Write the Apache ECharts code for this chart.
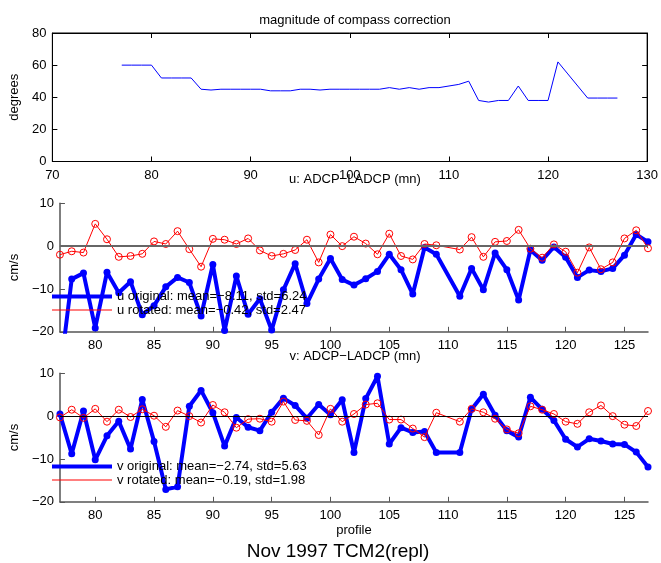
<!DOCTYPE html>
<html>
<head>
<meta charset="utf-8">
<script src="https://cdn.jsdelivr.net/npm/echarts@6/dist/echarts.min.js"></script>
<style>
html, body { margin: 0; padding: 0; background: #fff; }
#chart { width: 661px; height: 563px; }
</style>
</head>
<body>
<div id="chart"></div>
<script>
// profiles (110 is missing in the record)
var profiles = [77, 78, 79, 80, 81, 82, 83, 84, 85, 86, 87, 88, 89, 90, 91, 92, 93,
  94, 95, 96, 97, 98, 99, 100, 101, 102, 103, 104, 105, 106, 107, 108, 109,
  111, 112, 113, 114, 115, 116, 117, 118, 119, 120, 121, 122, 123, 124, 125, 126, 127]

var compass = [60, 60, 60, 60, 52, 52, 52, 52, 45, 44.5, 45, 45, 45, 45, 45, 44, 44,
  44, 45, 45, 44.5, 45, 45, 45, 45, 45, 45, 46, 45, 46, 45, 46, 46,
  48, 50, 38, 37, 38, 38, 47, 38, 38, 38, 62, 54.5, 47, 39.5, 39.5, 39.5, 39.5]

var uOrig = [-30, -7.7, -6.3, -19.1, -6.1, -10.9, -8.3, -16.0, -13.9, -9.5, -7.3, -8.5, -16.3, -4.3, -19.7, -7.0, -15.9,
  -12.3, -19.6, -10.2, -4.1, -13.4, -7.7, -2.9, -7.8, -9.1, -7.6, -5.9, -1.9, -5.5, -11.2, -0.3, -1.9,
  -11.7, -5.2, -10.2, -1.6, -5.5, -12.6, -0.9, -3.3, -0.2, -2.6, -7.3, -5.6, -5.9, -5.2, -2.1, 2.7, 1.0]
var uRot = [-2.0, -1.2, -1.5, 5.2, 1.6, -2.5, -2.3, -1.8, 1.1, 0.5, 3.5, -0.7, -4.8, 1.7, 1.5, 0.5, 1.8,
  -1.0, -2.3, -1.8, -0.9, 1.5, -3.8, 2.7, 0, 2.2, 0.6, -1.9, 2.9, -2.3, -3.1, 0.5, 0.2,
  -0.8, 2.1, -2.5, 1.0, 1.2, 3.8, -0.6, -2.7, 0.4, -1.3, -6.2, -0.3, -5.4, -3.8, 1.8, 3.7, -0.5]

var vOrig = [0.5, -8.8, 1.2, -10.2, -4.6, -1.2, -7.7, 3.9, -5.9, -17.1, -16.5, 2.3, 6.0, 0.8, -7.0, -0.3, -2.6,
  -3.4, 0.9, 4.2, 2.5, -0.5, 2.7, 0.3, 3.8, -8.5, 4.1, 9.3, -6.5, -2.7, -3.8, -3.6, -8.5,
  -8.5, 1.6, 5.1, 0.2, -3.4, -4.9, 4.4, 1.6, -1.0, -5.4, -7.2, -5.3, -5.8, -6.5, -6.6, -8.4, -11.9]
var vRot = [-0.3, 1.5, -0.4, 1.7, -1.3, 1.5, -0.2, 1.6, 0.1, -2.5, 1.3, 0, -1.5, 2.6, 0.9, -2.7, -0.7,
  -0.6, -1.3, 3.4, -0.9, -1.1, -4.4, 1.7, -1.3, 0.5, 2.7, 3.0, -0.8, -0.8, -2.9, -4.9, 0.8,
  -1.3, 1.7, 0.9, -0.6, -3.1, -4.0, 2.3, 1.5, 0.5, -1.3, -1.8, 0.9, 2.5, 0, -2.0, -2.3, 1.2]

var profileTicks = [80, 85, 90, 95, 100, 105, 110, 115, 120, 125]

var uNames = ['u original: mean=\u22128.11, std=6.24', 'u rotated: mean=\u22120.42, std=2.47']
var vNames = ['v original: mean=\u22122.74, std=5.63', 'v rotated: mean=\u22120.19, std=1.98']

function pairs (ys) {
  return profiles.map(function (p, i) { return [p, ys[i]] })
}
function minus (v) {
  return String(v).replace('-', '\u2212')
}

var font = 'Liberation Sans, Arial, sans-serif'
var axisTxt = { color: '#000', fontSize: 13, fontFamily: font }
var L = 52
var R = 13
var H = 128.5

function boxAxis (extra) {
  return Object.assign({
    type: 'value',
    axisLine: { show: true, onZero: false, lineStyle: { color: '#000', width: 1 } },
    axisTick: { show: true, inside: true, length: 5, lineStyle: { color: '#000' } },
    axisLabel: Object.assign({ formatter: minus }, axisTxt),
    splitLine: { show: false }
  }, extra)
}

function lowerX (gi) {
  return {
    type: 'value', gridIndex: gi, min: 77, max: 127, position: 'bottom',
    axisLine: { show: true, onZero: false, lineStyle: { color: '#555', width: 1.5 } },
    axisTick: { show: true, inside: true, length: 5, customValues: profileTicks, lineStyle: { color: '#555' } },
    axisLabel: Object.assign({ customValues: profileTicks, margin: 7 }, axisTxt),
    splitLine: { show: false }
  }
}
function lowerY (gi) {
  return {
    type: 'value', gridIndex: gi, min: -20, max: 10, interval: 10,
    name: 'cm/s', nameLocation: 'middle', nameGap: 24, nameRotate: 90,
    nameTextStyle: axisTxt,
    axisLine: { show: true, onZero: false, lineStyle: { color: '#555', width: 1.5 } },
    axisTick: { show: true, inside: true, length: 5, lineStyle: { color: '#555' } },
    axisLabel: Object.assign({ formatter: minus, margin: 6 }, axisTxt),
    splitLine: { show: false }
  }
}

function origSeries (name, gi, ys) {
  return {
    name: name, type: 'line', xAxisIndex: gi + 1, yAxisIndex: gi + 1,
    data: pairs(ys), symbol: 'circle', symbolSize: 7, showSymbol: true,
    lineStyle: { color: '#0000ff', width: 4 }, itemStyle: { color: '#0000ff' },
    emphasis: { disabled: true }, z: 3
  }
}
function rotSeries (name, gi, ys, zeroColor, zeroWidth) {
  return {
    name: name, type: 'line', xAxisIndex: gi + 1, yAxisIndex: gi + 1,
    data: pairs(ys), symbol: 'circle', symbolSize: 7,
    lineStyle: { color: '#ff0000', width: 1 },
    itemStyle: { color: 'rgba(255,255,255,0)', borderColor: '#ff0000', borderWidth: 1 },
    emphasis: { disabled: true }, z: 4,
    markLine: {
      silent: true, symbol: 'none', label: { show: false },
      lineStyle: { color: zeroColor, width: zeroWidth, type: 'solid' },
      data: [{ yAxis: 0 }]
    }
  }
}

function legendFor (name, top, h, color) {
  return {
    data: [{ name: name, icon: 'rect', itemStyle: { color: color, borderWidth: 0 } }],
    left: L, top: top, padding: 0, itemWidth: 60, itemHeight: h,
    selectedMode: false, textStyle: axisTxt
  }
}

var myChart = echarts.init(document.getElementById('chart'))
var option = {
  backgroundColor: '#fff',
  animation: false,
  title: [
    { text: 'magnitude of compass correction', left: 350, top: 9, textAlign: 'center', textStyle: { fontSize: 13, fontWeight: 'normal', color: '#000', fontFamily: font } },
    { text: 'u: ADCP\u2212LADCP (mn)', left: 350, top: 168, textAlign: 'center', textStyle: { fontSize: 13, fontWeight: 'normal', color: '#000', fontFamily: font } },
    { text: 'v: ADCP\u2212LADCP (mn)', left: 350, top: 345, textAlign: 'center', textStyle: { fontSize: 13, fontWeight: 'normal', color: '#000', fontFamily: font } },
    { text: 'Nov 1997 TCM2(repl)', left: 333, top: 537, textAlign: 'center', textStyle: { fontSize: 19, fontWeight: 'normal', color: '#000', fontFamily: font } }
  ],
  legend: [
    legendFor(uNames[0], 290, 4, '#0000ff'),
    legendFor(uNames[1], 303.5, 1, '#ff0000'),
    legendFor(vNames[0], 460, 4, '#0000ff'),
    legendFor(vNames[1], 473.5, 1, '#ff0000')
  ],
  grid: [
    { left: L, right: R, top: 33, height: H, show: true, borderColor: '#000', borderWidth: 1 },
    { left: L, right: R, top: 203.3, height: H },
    { left: L, right: R, top: 373.3, height: H }
  ],
  xAxis: [
    boxAxis({ gridIndex: 0, min: 70, max: 130, interval: 10, position: 'bottom', axisLabel: Object.assign({ margin: 7 }, axisTxt) }),
    lowerX(1),
    Object.assign(lowerX(2), { name: 'profile', nameLocation: 'middle', nameGap: 22, nameTextStyle: axisTxt }),
    boxAxis({ gridIndex: 0, min: 70, max: 130, interval: 10, position: 'top', axisLabel: { show: false } })
  ],
  yAxis: [
    boxAxis({ gridIndex: 0, min: 0, max: 80, interval: 20, position: 'left', name: 'degrees', nameLocation: 'middle', nameGap: 23, nameRotate: 90, nameTextStyle: axisTxt, axisLabel: Object.assign({ margin: 6 }, axisTxt) }),
    lowerY(1),
    lowerY(2),
    boxAxis({ gridIndex: 0, min: 0, max: 80, interval: 20, position: 'right', axisLabel: { show: false } })
  ],
  series: [
    {
      name: 'compass', type: 'line', xAxisIndex: 0, yAxisIndex: 0,
      data: pairs(compass), showSymbol: false, symbol: 'none',
      lineStyle: { color: '#0000ff', width: 1 }, emphasis: { disabled: true }
    },
    origSeries(uNames[0], 0, uOrig),
    rotSeries(uNames[1], 0, uRot, '#666', 2),
    origSeries(vNames[0], 1, vOrig),
    rotSeries(vNames[1], 1, vRot, '#000', 1)
  ]
}
myChart.setOption(option)
window.addEventListener('resize', function () {
  myChart.resize()
})
</script>
</body>
</html>
